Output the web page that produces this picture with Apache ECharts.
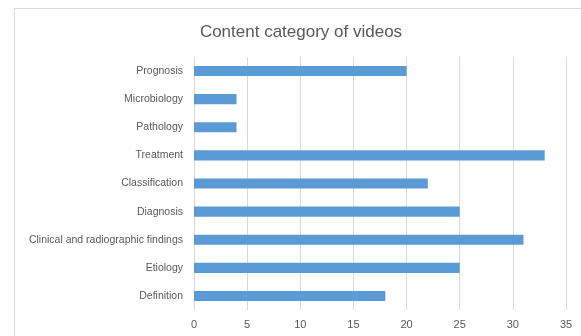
<!DOCTYPE html>
<html>
<head>
<meta charset="utf-8">
<script src="https://cdn.jsdelivr.net/npm/echarts@6/dist/echarts.min.js"></script>
<style>
  html, body { margin: 0; padding: 0; background: #fff; }
  #main { width: 581px; height: 336px; }
</style>
</head>
<body>
<div id="main"></div>
<script>
// bottom to top, as drawn
const categories = ['Definition', 'Etiology', 'Clinical and radiographic findings', 'Diagnosis',
  'Classification', 'Treatment', 'Pathology', 'Microbiology', 'Prognosis'];
const videoCounts = [18, 25, 31, 25, 22, 33, 4, 4, 20];
const xTicks = [0, 35, 5]; // min, max, step

const chart = echarts.init(document.getElementById('main'));
const textColor = '#595959';
const font = 'Liberation Sans';

chart.setOption({
  animation: false,
  title: {
    text: 'Content category of videos',
    left: 296,
    textAlign: 'center',
    top: 19,
    textStyle: { fontFamily: font, fontSize: 17, fontWeight: 'normal', color: textColor }
  },
  graphic: [{
    type: 'rect',
    shape: { x: 14.5, y: 8.5, width: 700, height: 500 },
    style: { fill: 'none', stroke: '#d9d9d9', lineWidth: 1 },
    silent: true
  }],
  grid: { left: 194, right: 15, top: 57, bottom: 26 },
  xAxis: {
    type: 'value',
    min: xTicks[0],
    max: xTicks[1],
    interval: xTicks[2],
    axisLine: { show: false },
    axisTick: { show: false },
    axisLabel: { color: textColor, fontFamily: font, fontSize: 11, margin: 9 },
    splitLine: { lineStyle: { color: '#d9d9d9', width: 1 } }
  },
  yAxis: {
    type: 'category',
    data: categories,
    axisLine: { lineStyle: { color: '#d9d9d9' } },
    axisTick: { length: 5, lineStyle: { color: '#d9d9d9' } },
    axisLabel: { color: textColor, fontFamily: font, fontSize: 10.5, margin: 11 }
  },
  series: [{
    type: 'bar',
    data: videoCounts,
    barWidth: '36%',
    itemStyle: { color: '#5b9bd5' }
  }]
});
</script>
</body>
</html>
